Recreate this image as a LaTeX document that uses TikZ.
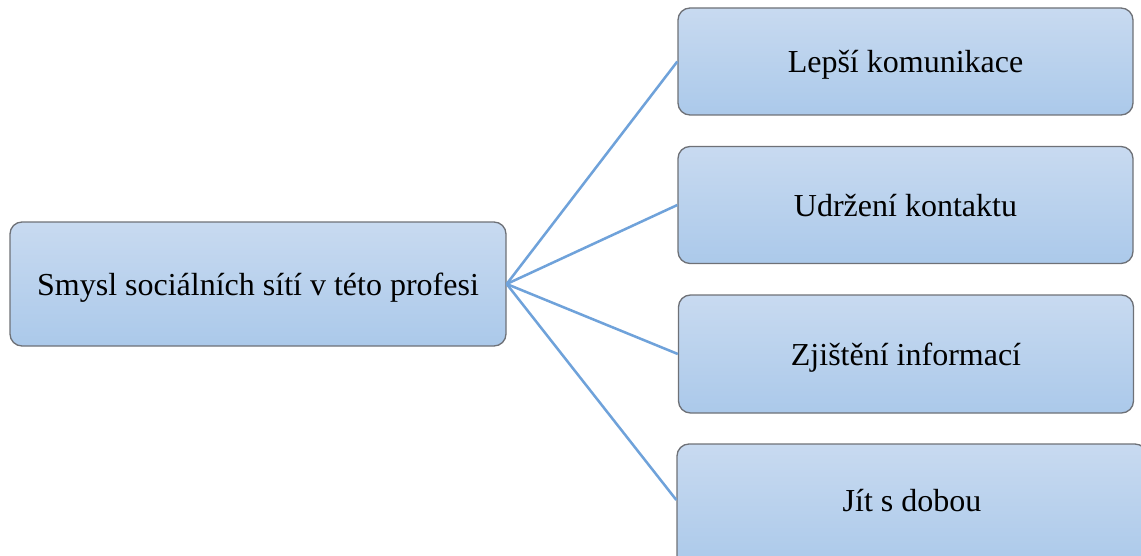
\documentclass[tikz,border=0pt]{standalone}
\usepackage{fontspec}
\setmainfont{Liberation Serif}
\definecolor{boxtop}{HTML}{C8DAF0}
\definecolor{boxbot}{HTML}{ABC9EA}
\definecolor{boxedge}{HTML}{6E7177}
\definecolor{linkcol}{HTML}{6FA2DA}
\tikzset{
  topic/.style={draw=boxedge, line width=1pt, rounded corners=9pt,
    top color=boxtop, bottom color=boxbot, align=center,
    font=\fontsize{24}{29}\selectfont, inner sep=0pt, text depth=0pt},
  link/.style={draw=linkcol, line width=1.9pt}
}
\begin{document}
\begin{tikzpicture}[x=0.75pt, y=-0.75pt]
  \useasboundingbox (0,0) rectangle (1141,556);
  % central node
  \node[topic, minimum width=496*0.75pt, minimum height=124*0.75pt] (main) at (258,284) {Smysl sociálních sítí v této profesi};
  % branches
  \node[topic, minimum width=455*0.75pt, minimum height=107*0.75pt] (b1) at (905.5,61.5) {Lepší komunikace};
  \node[topic, minimum width=455*0.75pt, minimum height=117*0.75pt] (b2) at (905.5,205) {Udržení kontaktu};
  \node[topic, minimum width=455*0.75pt, minimum height=118*0.75pt] (b3) at (906,354) {Zjištění informací};
  % last box runs past the lower edge; its text sits higher than the box centre
  \node[topic, minimum width=470*0.75pt, minimum height=124*0.75pt, text depth=9pt] (b4) at (912,506) {Jít s dobou};
  % connectors
  \foreach \b in {b1,b2,b3}
    \draw[link] (main.east) -- (\b.west);
  \draw[link] (main.east) -- ([yshift=4.5pt]b4.west);
\end{tikzpicture}
\end{document}
